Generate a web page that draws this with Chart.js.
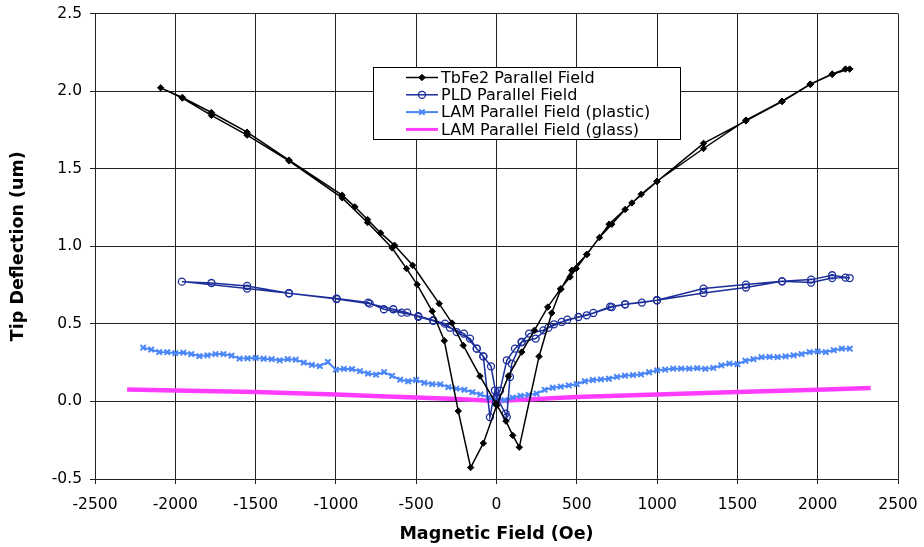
<!DOCTYPE html>
<html>
<head>
<meta charset="utf-8">
<script src="https://cdn.jsdelivr.net/npm/chart.js@4/dist/chart.umd.min.js"></script>
<style>
  html, body { margin: 0; padding: 0; background: #fff; }
  #wrap { width: 924px; height: 547px; }
</style>
</head>
<body>
<div id="wrap"><canvas id="deflectionChart"></canvas></div>
<script>
const FONT = "'DejaVu Sans', Verdana, sans-serif";

const seriesNames = [
  "TbFe2 Parallel Field",
  "PLD Parallel Field",
  "LAM Parallel Field (plastic)",
  "LAM Parallel Field (glass)"
];

// TbFe2 butterfly loop: 0 -> +2200 -> 0 -> -2100 -> 0
const tbfe2Field = [1, 74, 157, 236, 319, 400, 458, 496, 562, 641, 718, 801, 901, 999, 1289, 1553, 1778, 1954, 2090, 2173, 2199,
  2090, 1954, 1778, 1553, 1289, 999, 843, 701, 562, 469, 400, 344, 265, 142, 101, 59, -3,
  -103, -207, -277, -357, -522, -635, -722, -803, -882, -961, -1292, -1553, -1775, -1956, -2091,
  -1956, -1775, -1553, -1292, -961, -803, -650, -560, -494, -400, -325, -238, -161, -82, 1];
const tbfe2Defl = [-0.026, 0.163, 0.318, 0.458, 0.608, 0.727, 0.802, 0.856, 0.948, 1.056, 1.142, 1.237, 1.335, 1.419, 1.630, 1.813, 1.935, 2.045, 2.110, 2.142, 2.142,
  2.108, 2.043, 1.933, 1.808, 1.663, 1.417, 1.279, 1.142, 0.946, 0.845, 0.722, 0.570, 0.290, -0.295, -0.219, -0.127, -0.015,
  0.163, 0.361, 0.505, 0.630, 0.877, 1.006, 1.086, 1.172, 1.254, 1.329, 1.555, 1.735, 1.862, 1.959, 2.021,
  1.955, 1.843, 1.716, 1.550, 1.312, 1.153, 0.989, 0.856, 0.753, 0.581, 0.391, -0.062, -0.426, -0.269, -0.026];

// PLD loop
const pldField = [0, 22, 64, 115, 157, 203, 292, 358, 406, 510, 603, 708, 801, 905, 999, 1289, 1553, 1778, 1959, 2090, 2199,
  2173, 2090, 1959, 1778, 1553, 1289, 999, 801, 718, 562, 441, 323, 244, 157, 95, 84, 64, 57, 0,
  -34, -82, -123, -165, -248, -321, -394, -487, -591, -701, -799, -996, -1292, -1553, -1775, -1959,
  -1553, -1292, -996, -789, -643, -556, -487, -394, -290, -203, -123, -82, -41, -10, 0];
const pldDefl = [0.020, 0.070, 0.265, 0.340, 0.383, 0.437, 0.458, 0.497, 0.512, 0.544, 0.570, 0.610, 0.626, 0.637, 0.652, 0.727, 0.753, 0.774, 0.785, 0.813, 0.795,
  0.798, 0.795, 0.766, 0.774, 0.734, 0.699, 0.652, 0.626, 0.608, 0.555, 0.527, 0.475, 0.405, 0.383, 0.243, 0.157, -0.101, -0.079, 0.030,
  0.226, 0.290, 0.340, 0.405, 0.447, 0.501, 0.523, 0.550, 0.572, 0.594, 0.637, 0.663, 0.697, 0.744, 0.763, 0.772,
  0.727, 0.697, 0.660, 0.630, 0.594, 0.572, 0.545, 0.520, 0.475, 0.437, 0.340, 0.290, -0.101, 0.070, 0.020];

// LAM on plastic substrate, dense sweep
const plasticField = [-2200, -2150, -2100, -2050, -2000, -1950, -1900, -1850, -1800, -1750, -1700, -1650, -1600, -1550, -1500,
  -1450, -1400, -1350, -1300, -1250, -1200, -1150, -1100, -1050, -1000, -950, -900, -850, -800, -750, -700, -650, -600,
  -550, -500, -450, -400, -350, -300, -250, -200, -150, -100, -50, 0, 50, 100, 150, 200, 250, 300, 350, 400, 450, 500,
  550, 600, 650, 700, 750, 800, 850, 900, 950, 1000, 1050, 1100, 1150, 1200, 1250, 1300, 1350, 1400, 1450, 1500, 1550,
  1600, 1650, 1700, 1750, 1800, 1850, 1900, 1950, 2000, 2050, 2100, 2150, 2200];
const plasticDefl = [0.346, 0.334, 0.318, 0.317, 0.311, 0.314, 0.305, 0.292, 0.297, 0.305, 0.305, 0.295, 0.276, 0.278, 0.280,
  0.275, 0.272, 0.265, 0.272, 0.269, 0.250, 0.235, 0.228, 0.254, 0.205, 0.210, 0.208, 0.195, 0.180, 0.172, 0.189, 0.165, 0.140,
  0.130, 0.138, 0.120, 0.112, 0.110, 0.092, 0.082, 0.075, 0.060, 0.045, 0.025, 0.010, 0.008, 0.025, 0.036, 0.042, 0.050, 0.075, 0.088, 0.095, 0.103, 0.112,
  0.130, 0.138, 0.142, 0.146, 0.158, 0.166, 0.170, 0.174, 0.188, 0.200, 0.205, 0.211, 0.212, 0.211, 0.214, 0.210, 0.216, 0.232, 0.243, 0.240, 0.262,
  0.272, 0.285, 0.287, 0.286, 0.290, 0.297, 0.305, 0.318, 0.322, 0.318, 0.330, 0.340, 0.340];

// LAM on glass substrate
const glassField = [-2300, -2000, -1500, -1000, -726, -500, -250, 0, 250, 500, 1000, 1500, 2000, 2330];
const glassDefl = [0.076, 0.070, 0.060, 0.045, 0.034, 0.025, 0.015, 0.003, 0.015, 0.028, 0.045, 0.060, 0.075, 0.086];

const colors = ["#000000", "#1c2e9a", "#4a86f7", "#ff3cff"];

function toPoints(xs, ys) {
  return xs.map((x, i) => ({ x: x, y: ys[i] }));
}

// legend drawn inside the plot, like the original
const innerLegend = {
  id: "innerLegend",
  afterDraw(chart) {
    const ctx = chart.ctx;
    const box = { x: 373.5, y: 67.5, w: 307, h: 72 };
    ctx.save();
    ctx.fillStyle = "#fff";
    ctx.fillRect(box.x, box.y, box.w, box.h);
    ctx.strokeStyle = "#000";
    ctx.lineWidth = 1;
    ctx.strokeRect(box.x, box.y, box.w, box.h);
    ctx.font = "16px " + FONT;
    ctx.textBaseline = "middle";
    chart.data.datasets.forEach((ds, i) => {
      const y = 77.5 + i * 17.3;
      ctx.strokeStyle = ds.borderColor;
      ctx.lineWidth = Math.min(ds.borderWidth, 3);
      ctx.beginPath();
      ctx.moveTo(406, y);
      ctx.lineTo(438, y);
      ctx.stroke();
      if (ds.pointRadius > 0) {
        ctx.fillStyle = ds.pointBackgroundColor;
        ctx.strokeStyle = ds.pointBorderColor;
        ctx.lineWidth = ds.pointBorderWidth;
        Chart.helpers.drawPoint(ctx, {
          pointStyle: ds.pointStyle, radius: ds.pointRadius, rotation: 0, borderWidth: ds.pointBorderWidth
        }, 422, y);
      }
      ctx.fillStyle = "#000";
      ctx.fillText(ds.label, 441, y + 1);
    });
    ctx.restore();
  }
};

function createChart() {
  let ctx = document.getElementById("deflectionChart");
  new Chart(ctx, {
    type: "scatter",
    data: {
      datasets: [
        {
          label: seriesNames[0],
          data: toPoints(tbfe2Field, tbfe2Defl),
          showLine: true,
          borderColor: colors[0],
          borderWidth: 1.5,
          pointStyle: "rectRot",
          pointRadius: 3.2,
          pointBackgroundColor: colors[0],
          pointBorderColor: colors[0],
          pointBorderWidth: 1
        },
        {
          label: seriesNames[1],
          data: toPoints(pldField, pldDefl),
          showLine: true,
          borderColor: colors[1],
          borderWidth: 1.5,
          pointStyle: "circle",
          pointRadius: 3.5,
          pointBackgroundColor: "rgba(0,0,0,0)",
          pointBorderColor: colors[1],
          pointBorderWidth: 1.3
        },
        {
          label: seriesNames[2],
          data: toPoints(plasticField, plasticDefl),
          showLine: true,
          borderColor: colors[2],
          borderWidth: 2,
          pointStyle: "crossRot",
          pointRadius: 3.8,
          pointBackgroundColor: colors[2],
          pointBorderColor: colors[2],
          pointBorderWidth: 2
        },
        {
          label: seriesNames[3],
          data: toPoints(glassField, glassDefl),
          showLine: true,
          borderColor: colors[3],
          borderWidth: 4.5,
          pointRadius: 0,
          pointBackgroundColor: colors[3],
          pointBorderColor: colors[3],
          pointBorderWidth: 0
        }
      ]
    },
    options: {
      responsive: false,
      animation: false,
      layout: { padding: { top: 13.5, right: 26, left: 0, bottom: 0 } },
      plugins: { legend: { display: false }, tooltip: { enabled: false } },
      elements: { line: { tension: 0 } },
      scales: {
        x: {
          type: "linear",
          min: -2500,
          max: 2500,
          afterFit: scale => {
            scale.height = 68;
            scale.paddingLeft = 0;
            scale.paddingRight = 0;
          },
          ticks: {
            stepSize: 500,
            color: "#000",
            padding: 12,
            maxRotation: 0,
            font: { family: FONT, size: 15.5 },
            callback: v => String(v)
          },
          grid: { color: "#222", lineWidth: 1, tickLength: 5 },
          border: { color: "#222", width: 1 },
          title: {
            display: true,
            text: "Magnetic Field (Oe)",
            color: "#000",
            font: { family: FONT, size: 17.5, weight: "bold" },
            padding: { top: 0, bottom: 2.5 }
          }
        },
        y: {
          type: "linear",
          min: -0.5,
          max: 2.5,
          afterFit: scale => {
            scale.width = 95;
            scale.paddingTop = 0;
            scale.paddingBottom = 0;
          },
          ticks: {
            stepSize: 0.5,
            color: "#000",
            padding: 8,
            font: { family: FONT, size: 15.5 },
            callback: v => v.toFixed(1)
          },
          grid: { color: "#222", lineWidth: 1, tickLength: 5 },
          border: { color: "#222", width: 1 },
          title: {
            display: true,
            text: "Tip Deflection (um)",
            color: "#000",
            font: { family: FONT, size: 17.5, weight: "bold" },
            padding: { top: 7.5, bottom: 0 }
          }
        }
      }
    },
    plugins: [innerLegend]
  });
}

document.getElementById("deflectionChart").width = 924;
document.getElementById("deflectionChart").height = 547;
createChart();
</script>
</body>
</html>
